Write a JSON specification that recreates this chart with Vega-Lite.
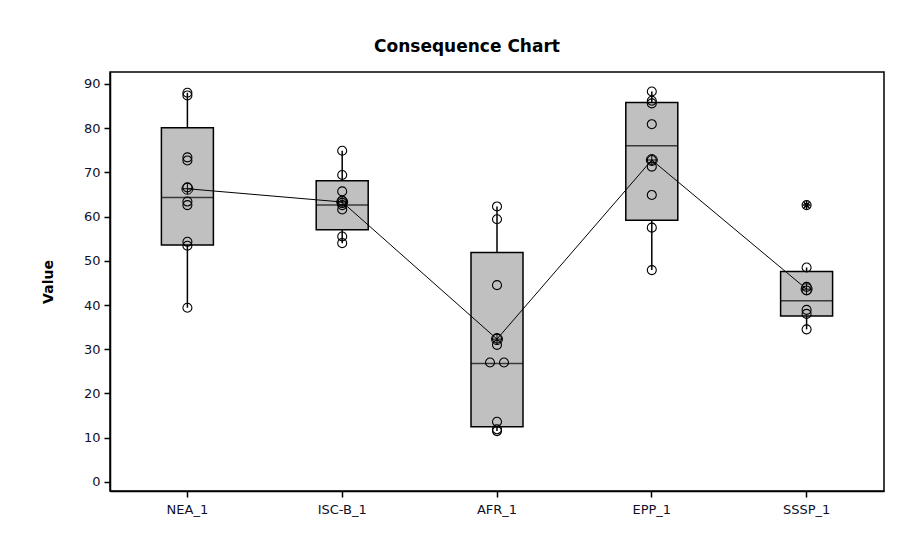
{
  "$schema": "https://vega.github.io/schema/vega-lite/v6.json",
  "width": 774,
  "height": 419,
  "autosize": {"type": "none"},
  "padding": {"left": 110, "top": 72, "right": 36, "bottom": 46},
  "background": "white",
  "title": {
    "text": "Consequence Chart",
    "font": "DejaVu Sans",
    "fontSize": 17,
    "fontWeight": "bold",
    "color": "black",
    "anchor": "middle",
    "dx": -30,
    "offset": 16
  },
  "config": {
    "view": {"stroke": "black", "strokeWidth": 1.5},
    "axis": {
      "grid": false,
      "domainColor": "black",
      "domainWidth": 1.5,
      "tickColor": "black",
      "tickWidth": 1.5,
      "tickSize": 6,
      "labelFont": "DejaVu Sans",
      "labelFontSize": 13,
      "labelColor": "#10102a",
      "titleFont": "DejaVu Sans",
      "titleFontSize": 14,
      "titleFontWeight": "bold",
      "titleColor": "black"
    },
    "axisY": {"labelPadding": 4, "titlePadding": 28},
    "axisX": {"labelPadding": 6, "labelAngle": 0}
  },
  "datasets": {
    "points": [
      {"group": "NEA_1", "value": 88.0, "tie": 0, "outlier": false},
      {"group": "NEA_1", "value": 87.4, "tie": 0, "outlier": false},
      {"group": "NEA_1", "value": 73.4, "tie": 0, "outlier": false},
      {"group": "NEA_1", "value": 72.7, "tie": 0, "outlier": false},
      {"group": "NEA_1", "value": 66.6, "tie": 0, "outlier": false},
      {"group": "NEA_1", "value": 63.4, "tie": 0, "outlier": false},
      {"group": "NEA_1", "value": 62.6, "tie": 0, "outlier": false},
      {"group": "NEA_1", "value": 54.3, "tie": 0, "outlier": false},
      {"group": "NEA_1", "value": 53.4, "tie": 0, "outlier": false},
      {"group": "NEA_1", "value": 39.4, "tie": 0, "outlier": false},
      {"group": "ISC-B_1", "value": 74.9, "tie": 0, "outlier": false},
      {"group": "ISC-B_1", "value": 69.4, "tie": 0, "outlier": false},
      {"group": "ISC-B_1", "value": 65.7, "tie": 0, "outlier": false},
      {"group": "ISC-B_1", "value": 63.6, "tie": 0, "outlier": false},
      {"group": "ISC-B_1", "value": 63.1, "tie": 0, "outlier": false},
      {"group": "ISC-B_1", "value": 62.6, "tie": 0, "outlier": false},
      {"group": "ISC-B_1", "value": 61.6, "tie": 0, "outlier": false},
      {"group": "ISC-B_1", "value": 55.5, "tie": 0, "outlier": false},
      {"group": "ISC-B_1", "value": 54.0, "tie": 0, "outlier": false},
      {"group": "AFR_1", "value": 62.3, "tie": 0, "outlier": false},
      {"group": "AFR_1", "value": 59.4, "tie": 0, "outlier": false},
      {"group": "AFR_1", "value": 44.5, "tie": 0, "outlier": false},
      {"group": "AFR_1", "value": 32.4, "tie": 0, "outlier": false},
      {"group": "AFR_1", "value": 31.0, "tie": 0, "outlier": false},
      {"group": "AFR_1", "value": 27.0, "tie": -1, "outlier": false},
      {"group": "AFR_1", "value": 27.0, "tie": 1, "outlier": false},
      {"group": "AFR_1", "value": 13.6, "tie": 0, "outlier": false},
      {"group": "AFR_1", "value": 11.9, "tie": 0, "outlier": false},
      {"group": "AFR_1", "value": 11.5, "tie": 0, "outlier": false},
      {"group": "EPP_1", "value": 88.3, "tie": 0, "outlier": false},
      {"group": "EPP_1", "value": 86.2, "tie": 0, "outlier": false},
      {"group": "EPP_1", "value": 85.6, "tie": 0, "outlier": false},
      {"group": "EPP_1", "value": 80.9, "tie": 0, "outlier": false},
      {"group": "EPP_1", "value": 72.8, "tie": 0, "outlier": false},
      {"group": "EPP_1", "value": 71.3, "tie": 0, "outlier": false},
      {"group": "EPP_1", "value": 64.9, "tie": 0, "outlier": false},
      {"group": "EPP_1", "value": 57.5, "tie": 0, "outlier": false},
      {"group": "EPP_1", "value": 47.9, "tie": 0, "outlier": false},
      {"group": "SSSP_1", "value": 62.6, "tie": 0, "outlier": true},
      {"group": "SSSP_1", "value": 48.5, "tie": 0, "outlier": false},
      {"group": "SSSP_1", "value": 44.1, "tie": 0, "outlier": false},
      {"group": "SSSP_1", "value": 43.3, "tie": 0, "outlier": false},
      {"group": "SSSP_1", "value": 38.9, "tie": 0, "outlier": false},
      {"group": "SSSP_1", "value": 38.0, "tie": 0, "outlier": false},
      {"group": "SSSP_1", "value": 34.5, "tie": 0, "outlier": false}
    ],
    "stats": [
      {"group": "NEA_1", "lower": 39.4, "q1": 53.6, "median": 64.3, "q3": 80.1, "upper": 88.0, "mean": 66.3},
      {"group": "ISC-B_1", "lower": 54.0, "q1": 57.0, "median": 62.6, "q3": 68.1, "upper": 74.9, "mean": 63.3},
      {"group": "AFR_1", "lower": 11.5, "q1": 12.5, "median": 26.8, "q3": 51.9, "upper": 62.3, "mean": 32.3},
      {"group": "EPP_1", "lower": 47.9, "q1": 59.2, "median": 76.0, "q3": 85.8, "upper": 88.3, "mean": 72.8},
      {"group": "SSSP_1", "lower": 34.5, "q1": 37.5, "median": 41.0, "q3": 47.6, "upper": 48.5, "mean": 43.6}
    ]
  },
  "encoding": {
    "x": {
      "field": "group",
      "type": "nominal",
      "sort": null,
      "scale": {
        "domain": ["NEA_1", "ISC-B_1", "AFR_1", "EPP_1", "SSSP_1"],
        "paddingInner": 0,
        "paddingOuter": 0
      },
      "axis": {"title": null}
    }
  },
  "layer": [
    {
      "data": {"name": "stats"},
      "mark": {"type": "rule", "color": "black", "strokeWidth": 1.5},
      "encoding": {
        "y": {
          "field": "lower",
          "type": "quantitative",
          "title": "Value",
          "scale": {"domain": [-2.05, 92.7], "nice": false, "zero": false},
          "axis": {"values": [0, 10, 20, 30, 40, 50, 60, 70, 80, 90]}
        },
        "y2": {"field": "upper"}
      }
    },
    {
      "data": {"name": "stats"},
      "mark": {"type": "bar", "width": 52, "fill": "#c0c0c0", "stroke": "black", "strokeWidth": 1.5},
      "encoding": {
        "y": {"field": "q1", "type": "quantitative", "title": "Value"},
        "y2": {"field": "q3"}
      }
    },
    {
      "data": {"name": "stats"},
      "mark": {"type": "tick", "size": 52, "thickness": 1.5, "color": "black"},
      "encoding": {
        "y": {"field": "median", "type": "quantitative", "title": "Value"}
      }
    },
    {
      "data": {"name": "stats"},
      "mark": {"type": "line", "color": "black", "strokeWidth": 1},
      "encoding": {
        "y": {"field": "mean", "type": "quantitative", "title": "Value"}
      }
    },
    {
      "data": {"name": "points"},
      "mark": {"type": "point", "shape": "circle", "filled": false, "stroke": "black", "strokeWidth": 1.1, "size": 81, "opacity": 1},
      "encoding": {
        "y": {"field": "value", "type": "quantitative", "title": "Value"},
        "xOffset": {"field": "tie", "type": "quantitative", "scale": {"domain": [-1, 1], "range": [70.4, 84.4]}}
      }
    },
    {
      "data": {"name": "points"},
      "transform": [{"filter": "datum.outlier"}],
      "mark": {
        "type": "point",
        "shape": "M-1,0L1,0M0,-1L0,1M-0.7,-0.7L0.7,0.7M-0.7,0.7L0.7,-0.7",
        "filled": false,
        "stroke": "black",
        "strokeWidth": 1.5,
        "size": 64,
        "opacity": 1
      },
      "encoding": {
        "y": {"field": "value", "type": "quantitative", "title": "Value"}
      }
    },
    {
      "data": {"name": "stats"},
      "mark": {
        "type": "point",
        "shape": "M-1,0A1,1,0,1,0,1,0A1,1,0,1,0,-1,0ZM-1,0L1,0M0,-1L0,1",
        "filled": false,
        "stroke": "black",
        "strokeWidth": 1,
        "size": 121,
        "opacity": 1
      },
      "encoding": {
        "y": {"field": "mean", "type": "quantitative", "title": "Value"}
      }
    }
  ]
}
